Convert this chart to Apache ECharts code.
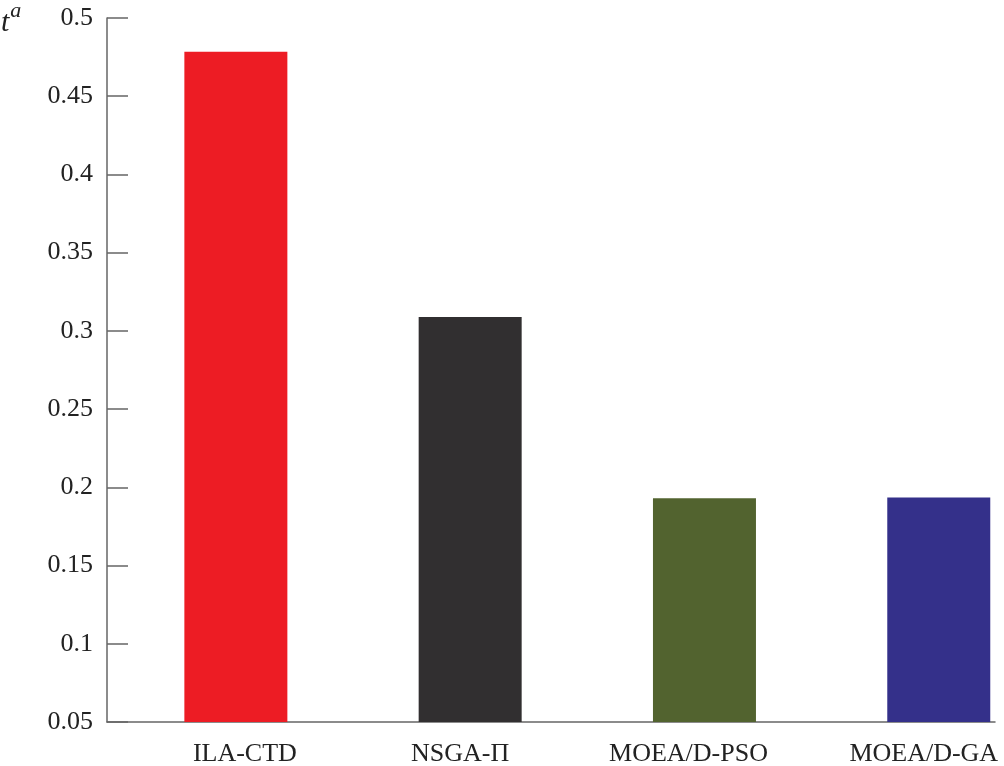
<!DOCTYPE html>
<html>
<head>
<meta charset="utf-8">
<script src="https://cdn.jsdelivr.net/npm/echarts@6/dist/echarts.min.js"></script>
<style>html,body{margin:0;padding:0;background:#fff;}#c{width:1004px;height:766px;}</style>
</head>
<body>
<div id="c"></div>
<script>
const categories = ['ILA-CTD', 'NSGA-\u03A0', 'MOEA/D-PSO', 'MOEA/D-GA'];
const values = [0.4785, 0.3089, 0.1931, 0.1935];
const colors = ['#ED1C24', '#312F30', '#52632F', '#34308A'];
const yTicks = {min: 0.05, max: 0.5, interval: 0.05};

const chart = echarts.init(document.getElementById('c'), null, {renderer: 'canvas'});
const font = '"Liberation Serif", "Times New Roman", serif';
// label padding (left/right) used to nudge category labels as in the original figure
const labelPads = [[0, 0, 0, 18], [0, 20, 0, 0], [0, 32, 0, 0], [0, 30, 0, 0]];
const rich = {};
labelPads.forEach((p, i) => {
  rich['c' + i] = {color: '#222', fontFamily: font, fontSize: 26, padding: p};
});
chart.setOption({
  animation: false,
  backgroundColor: '#fff',
  title: {
    text: '{t|t}{a|a}',
    left: 1, top: 0, padding: 0,
    textStyle: {
      fontWeight: 'normal',
      rich: {
        t: {fontFamily: font, fontStyle: 'italic', fontWeight: 'normal', fontSize: 30, color: '#222', padding: [8, 0, 0, 0]},
        a: {fontFamily: font, fontStyle: 'italic', fontWeight: 'normal', fontSize: 22, color: '#222', padding: [0, 0, 16, 1]}
      }
    }
  },
  grid: {left: 107, right: 9, top: 18, bottom: 44, containLabel: false, outerBoundsMode: 'none'},
  xAxis: {
    type: 'value', min: -0.55, max: 3.24,
    splitLine: {show: false},
    axisTick: {show: false},
    axisLine: {onZero: false, lineStyle: {color: '#666', width: 1.5}},
    axisLabel: {
      color: '#222', fontFamily: font, fontSize: 26, margin: 19,
      showMinLabel: true, showMaxLabel: true, hideOverlap: false,
      rich: rich,
      formatter: v => (Number.isInteger(v) && v >= 0 && v < categories.length) ? '{c' + v + '|' + categories[v] + '}' : ''
    }
  },
  yAxis: {
    type: 'value', min: yTicks.min, max: yTicks.max, interval: yTicks.interval,
    splitLine: {show: false},
    axisLine: {show: true, onZero: false, lineStyle: {color: '#666', width: 1.5}},
    axisTick: {show: true, inside: true, length: 21, lineStyle: {color: '#666', width: 1.5}},
    axisLabel: {color: '#222', fontFamily: font, fontSize: 26, margin: 14,
      formatter: v => String(+v.toFixed(2))}
  },
  series: [{
    type: 'bar',
    barWidth: 103,
    data: values.map((v, i) => ({value: [i, v], itemStyle: {color: colors[i]}}))
  }]
});
</script>
</body>
</html>
